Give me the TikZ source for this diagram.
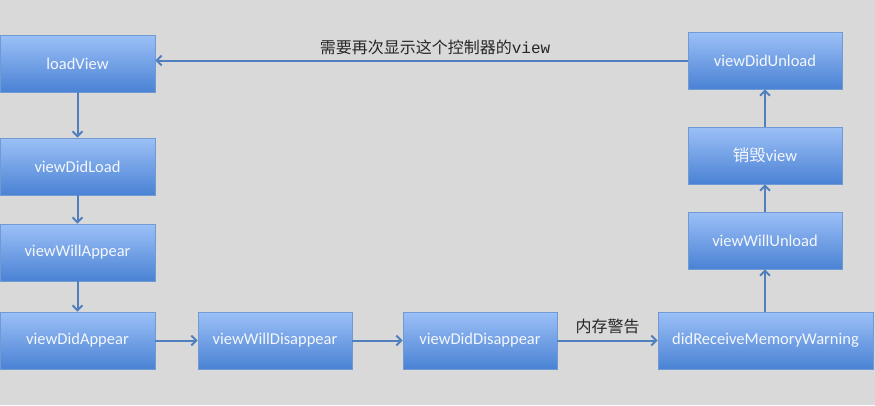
\documentclass[tikz,border=0pt]{standalone}
\usepackage{fontspec}
\setmainfont{Carlito}
\newfontfamily\cjk{Noto Sans CJK SC}
\newfontfamily\monof{Liberation Mono}
\usetikzlibrary{arrows.meta,shadows}
\definecolor{bg}{HTML}{D9D9D9}
\definecolor{boxtop}{HTML}{9CC0F7}
\definecolor{boxbot}{HTML}{4A82D4}
\definecolor{boxedge}{HTML}{6F9AD3}
\definecolor{arr}{HTML}{4F7FBD}
\definecolor{lbl}{HTML}{262626}
\definecolor{boxtext}{HTML}{F4F7FC}
\tikzset{
  box/.style={rectangle, draw=boxedge, line width=0.6pt, top color=boxtop, bottom color=boxbot,
    text=boxtext, font=\fontsize{16.5}{19}\selectfont, inner sep=0pt,
    drop shadow={shadow xshift=1.2pt, shadow yshift=-1.2pt, fill=black, opacity=0.25}},
  conn/.style={draw=arr, line width=2pt, -{Straight Barb[length=5pt,width=10pt,line width=2pt]}},
  lab/.style={text=lbl, font=\cjk\fontsize{16}{19}\selectfont}
}
\begin{document}
\begin{tikzpicture}[x=1pt,y=-1pt]
\fill[bg] (0,0) rectangle (875,405);
\useasboundingbox (0,0) rectangle (875,405);
\node[box, minimum width=155pt, minimum height=57pt] (lv) at (77.5,63.5) {loadView};
\node[box, minimum width=155pt, minimum height=57pt] (vdl) at (77.5,166.5) {viewDidLoad};
\node[box, minimum width=155pt, minimum height=57pt] (vwa) at (77.5,252.5) {viewWillAppear};
\node[box, minimum width=155pt, minimum height=57pt] (vda) at (77.5,340.5) {viewDidAppear};
\node[box, minimum width=154pt, minimum height=57pt] (vwd) at (275,340.5) {viewWillDisappear};
\node[box, minimum width=154pt, minimum height=57pt] (vdd) at (480,340.5) {viewDidDisappear};
\node[box, minimum width=215pt, minimum height=57pt] (mw) at (765.5,340.5) {didReceiveMemoryWarning};
\node[box, minimum width=154pt, minimum height=57pt] (vwu) at (765,240.5) {viewWillUnload};
\node[box, minimum width=154pt, minimum height=57pt] (xh) at (765,155.5) {{\cjk 销毁}view};
\node[box, minimum width=154pt, minimum height=57pt] (vdu) at (765,60.5) {viewDidUnload};
\draw[conn] (lv) -- (vdl);
\draw[conn] (vdl) -- (vwa);
\draw[conn] (vwa) -- (vda);
\draw[conn] (vda) -- (vwd);
\draw[conn] (vwd) -- (vdd);
\draw[conn] (vdd) -- node[lab, above=2pt] {内存警告} (mw);
\draw[conn] (mw.north -| vwu) -- (vwu);
\draw[conn] (vwu) -- (xh);
\draw[conn] (xh) -- (vdu);
\draw[conn] (vdu.west) -- (lv.east |- vdu.west);
\node[lab] (t) at (435,47) {需要再次显示这个控制器的{\monof view}};
\end{tikzpicture}
\end{document}
